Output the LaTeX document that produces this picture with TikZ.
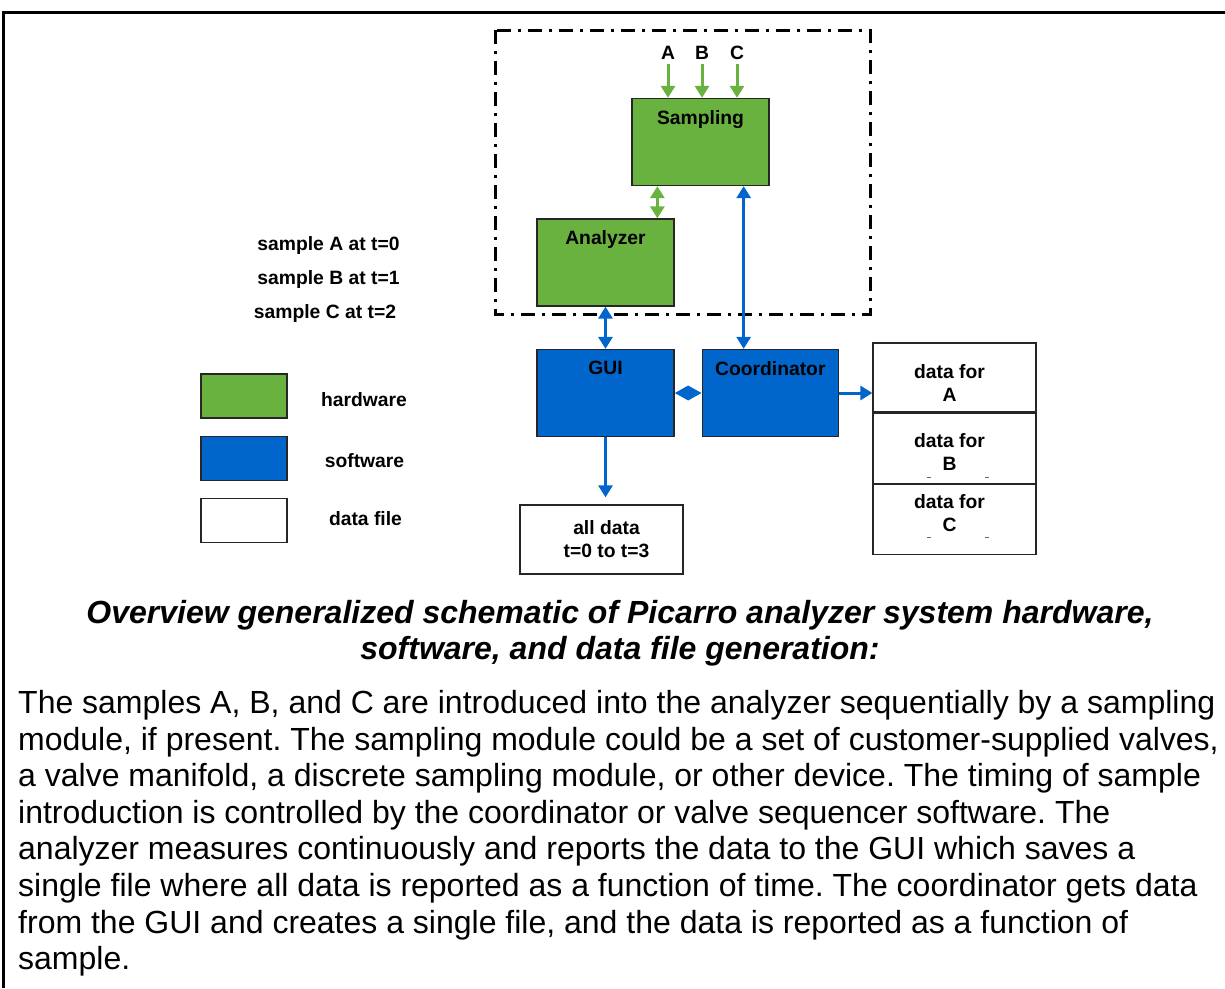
\documentclass[tikz,border=0pt]{standalone}
\usepackage{fontspec}
\setmainfont{Liberation Sans}
\usepackage{xcolor}
\usetikzlibrary{arrows.meta, positioning}
\definecolor{hwgreen}{RGB}{106,178,64}
\definecolor{swblue}{RGB}{0,102,204}
\frenchspacing

\begin{document}
\begin{tikzpicture}[
    x=1pt, y=-1pt,
    >={Triangle[width=14pt,length=12pt]},
    lbl/.style={font=\fontsize{19.3}{23}\selectfont\bfseries, align=center, inner sep=0pt},
    hwbox/.style={rectangle, draw=black!85, line width=1.3pt, fill=hwgreen, minimum width=137pt, minimum height=87pt, inner sep=0pt},
    swbox/.style={hwbox, fill=swblue},
    filebox/.style={rectangle, draw=black!85, line width=1.3pt, fill=white, minimum width=163pt, minimum height=69pt, inner sep=0pt},
    keybox/.style={rectangle, draw=black!85, line width=1.3pt, minimum width=86pt, minimum height=44pt},
    toplabel/.style={label={[lbl, anchor=north, yshift=-12pt]north:#1}},
    garrow/.style={line width=3pt, draw=hwgreen},
    barrow/.style={line width=3pt, draw=swblue}
]
\useasboundingbox (0,0) rectangle (1225,988);
\draw[line width=3pt] (3,988) -- (3,12) -- (1225,12);
\draw[line width=3pt, dash pattern=on 14pt off 7pt on 3pt off 7pt] (495,30) rectangle (870,314);

\node[hwbox, toplabel=Sampling] (sampling) at (700.5,142) {};
\node[hwbox, toplabel=Analyzer] (analyzer) at (605.5,262.5) {};
\node[swbox, toplabel=GUI] (gui) at (605.5,393) {};
\node[swbox, minimum width=136pt, toplabel=Coordinator, right=27pt of gui] (coord) {};

\node[filebox, label={[lbl, xshift=-5pt, yshift=-5pt]center:data for\\A}] (dataA) at (954.5,377.5) {};
\node[filebox, minimum height=70pt, below=0pt of dataA, label={[lbl, xshift=-5pt, yshift=-4pt]center:data for\\B}] (dataB) {};
\node[filebox, minimum height=70pt, below=0pt of dataB, label={[lbl, xshift=-5pt, yshift=7pt]center:data for\\C}] (dataC) {};
\draw[line width=2.5pt, black!85] (dataC.north west) -- (dataC.north east);
\foreach \mx in {929,987}
  \foreach \my in {477,537}
    \draw[line width=1pt, black!60] (\mx-2,\my) -- (\mx+2,\my);
\node[filebox, label={[lbl, xshift=5pt]center:all data\\t=0 to t=3}] (alldata) at (601.5,539.5) {};

\node[lbl] (inA) at (668,53) {A};
\node[lbl] (inB) at (702,53) {B};
\node[lbl] (inC) at (737,53) {C};

\node[lbl] (smpA) at (328.5,245.5) {sample A at t=0};
\node[lbl] (smpB) at (328.5,279.5) {sample B at t=1};
\node[lbl] (smpC) at (325,313.5) {sample C at t=2};

\node[keybox, fill=hwgreen] (hwkey) at (244,396) {};
\node[keybox, fill=swblue, below=17pt of hwkey] (swkey) {};
\node[keybox, fill=white, below=17pt of swkey] (filekey) {};
\node[lbl] (hwtext) at (364,400) {hardware};
\node[lbl] (swtext) at (364.5,461) {software};
\node[lbl] (filetext) at (365.5,518.5) {data file};

\foreach \n in {inA,inB,inC}
  \draw[garrow, ->, shorten <=4pt] (\n.south) -- (\n.south |- sampling.north);
\coordinate (sa) at ([xshift=26pt]sampling.south west);
\draw[garrow, <->] (sa) -- (sa |- analyzer.north);

\coordinate (sc) at ([xshift=-26pt]sampling.south east);
\draw[barrow, <->] (sc) -- (sc |- coord.north);
\draw[barrow, <->] (analyzer) -- (gui);
\draw[barrow, <->, >={Triangle[width=14pt,length=13.5pt]}] (gui) -- (coord);
\draw[barrow, ->] (coord) -- (coord -| dataA.west);
\draw[barrow, ->, shorten >=7pt] (gui) -- (gui |- alldata.north);

\node[font=\fontsize{32}{36}\selectfont\bfseries\itshape, align=center, anchor=north, inner sep=0pt] (caption) at (620,600) {Overview generalized schematic of Picarro analyzer system hardware,\\software, and data file generation:};

\node[font=\fontsize{32}{36.6}\selectfont, align=left, anchor=north west, inner sep=0pt] (body) at (18,690) {The samples A, B, and C are introduced into the analyzer sequentially by a sampling\\module, if present. The sampling module could be a set of customer-supplied valves,\\a valve manifold, a discrete sampling module, or other device. The timing of sample\\introduction is controlled by the coordinator or valve sequencer software. The\\analyzer measures continuously and reports the data to the GUI which saves a\\single file where all data is reported as a function of time. The coordinator gets data\\from the GUI and creates a single file, and the data is reported as a function of\\sample.};
\end{tikzpicture}
\end{document}
